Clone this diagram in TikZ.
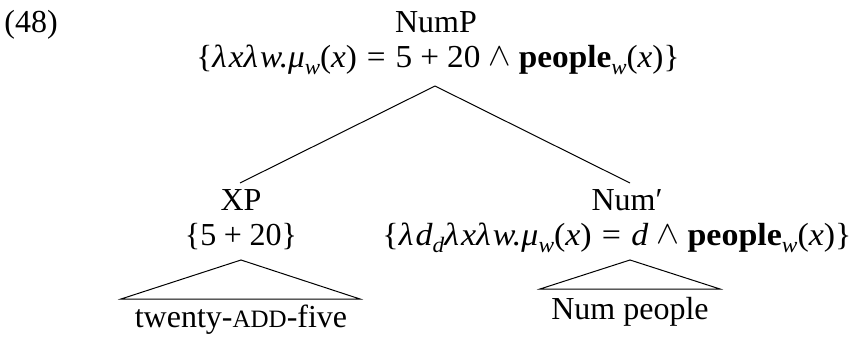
\documentclass[tikz,border=0pt]{standalone}
\usepackage{graphicx}
\usepackage{fontspec}
\setmainfont{Liberation Serif}
\newcommand\mi[1]{\textit{#1}}
\newcommand\sub[1]{\raisebox{-0.22em}{\fontsize{22}{24}\selectfont\itshape #1}}
\newcommand\rel[1]{\hspace{0.3em}#1\hspace{0.3em}}
\newcommand\bin[1]{\hspace{0.24em}#1\hspace{0.24em}}
\newcommand\lam{λ\hspace{0.06em}}
\newcommand\andsym{\bin{\raisebox{0.05em}{\scalebox{1.3}{$\wedge$}}}}
\begin{document}
\begin{tikzpicture}[x=1pt,y=-1pt,
  lbl/.style={anchor=base,inner sep=0pt,font=\fontsize{32}{38}\selectfont},
  edge/.style={line width=1pt}]
\useasboundingbox (0,0) rectangle (868,337);
\node[lbl] (ex) at (31,33) {(48)};
\node[lbl] (nump) at (436,33) {NumP};
\node[lbl] (numpsem) at (438,67) {\resizebox{483pt}{\height}{\{\mi{\lam x\lam w.μ}\sub{w}(\mi{x})\rel{=}5\bin{+}20\andsym\textbf{people}\sub{w}(\mi{x})\}}};
\coordinate (top) at (435,86);
\node[lbl] (xp) at (241,210) {XP};
\node[lbl] (xpsem) at (241,245) {\{5\bin{+}20\}};
\node[lbl] (num) at (627,210) {Num′};
\node[lbl] (numsem) at (617,245) {\resizebox{469pt}{\height}{\{\mi{\lam d}\sub{d}\mi{\lam x\lam w.μ}\sub{w}(\mi{x})\rel{=}\mi{d}\andsym\textbf{people}\sub{w}(\mi{x})\}}};
\coordinate (xpleaf) at (240,183);
\coordinate (numleaf) at (630,183);
\draw[edge] (top) -- (xpleaf);
\draw[edge] (top) -- (numleaf);
% triangles
\coordinate (xtop) at (241,260);
\coordinate (xl) at (121,299);
\coordinate (xr) at (360,299);
\draw[edge] (xtop) -- (xl) -- (xr) -- cycle;
\node[lbl] (xleaf) at (241,327) {twenty-{\fontsize{25}{30}\selectfont ADD}-five};
\coordinate (ntop) at (630,260);
\coordinate (nl) at (540,289);
\coordinate (nr) at (720,289);
\draw[edge] (ntop) -- (nl) -- (nr) -- cycle;
\node[lbl] (nleaf) at (630,319) {Num people};
\end{tikzpicture}
\end{document}
